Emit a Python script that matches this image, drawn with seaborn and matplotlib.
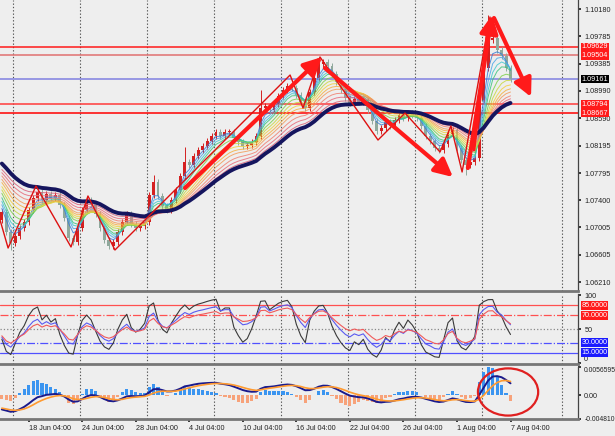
import numpy as np
import pandas as pd
import matplotlib
matplotlib.use('Agg')
import matplotlib.pyplot as plt
import seaborn as sns
from matplotlib.patches import Ellipse

# EURUSD, sampled every 2 H4 bars (bar 0 = Mon 17 Jun 2024 00:00)
first_bar = -5
bar_step = 2
closes = [
    1.07228, 1.06938, 1.06778, 1.06879, 1.06996, 1.07083, 1.07258, 1.07432, 1.07519, 1.07403,
    1.07490, 1.07432, 1.07476, 1.07330, 1.07141, 1.06850, 1.06792, 1.06996, 1.07258, 1.07403,
    1.07345, 1.07199, 1.06996, 1.06821, 1.06734, 1.06792, 1.06938, 1.07083, 1.07199, 1.07054,
    1.06996, 1.07025, 1.07083, 1.07476, 1.07665, 1.07461, 1.07316, 1.07258, 1.07403, 1.07548,
    1.07752, 1.07955, 1.07912, 1.08043, 1.08130, 1.08188, 1.08261, 1.08334, 1.08392, 1.08334,
    1.08392, 1.08392, 1.08304, 1.08246, 1.08188, 1.08203, 1.08246, 1.08334, 1.08741, 1.08770,
    1.08712, 1.08799, 1.08915, 1.09002, 1.09061, 1.09031, 1.08930, 1.08828, 1.08741, 1.08973,
    1.09177, 1.09380, 1.09409, 1.09351, 1.09235, 1.09119, 1.09002, 1.08886, 1.08813, 1.08871,
    1.08828, 1.08857, 1.08712, 1.08552, 1.08406, 1.08450, 1.08537, 1.08479, 1.08566, 1.08639,
    1.08595, 1.08668, 1.08639, 1.08595, 1.08479, 1.08334, 1.08261, 1.08159, 1.08130, 1.08217,
    1.08363, 1.08421, 1.08159, 1.07985, 1.07912, 1.07955, 1.08014, 1.08857, 1.09322, 1.09729,
    1.09758, 1.09584, 1.09497, 1.09322, 1.09161,
]
first_open = 1.07110
wick_highs = {34: 1.0776, 41: 1.0817, 58: 1.0900, 109: 1.1010}
wick_lows = {2: 1.0668, 104: 1.0777}

# rainbow EMAs (fast -> slow) and their values at the left edge
ma_periods = [3, 4, 5, 6, 8, 10, 12, 14, 16, 19, 22, 25]
ma_start = [1.07330, 1.07403, 1.07461, 1.07519, 1.07577, 1.07621,
            1.07665, 1.07723, 1.07766, 1.07810, 1.07854, 1.07898]
ma_colors = ['#3a7bd5', '#4aa8e8', '#40c8d0', '#3cc47c', '#7cd04a', '#c8d840',
             '#f0d040', '#f5b041', '#f39c5a', '#f08070', '#e86a7a', '#d9607a']
navy_period = 28
navy_start = 1.07985

# horizontal levels on the price chart
levels = [1.09629, 1.09504, 1.09161, 1.08794, 1.08667]
level_colors = ['#ff1a1a', '#e07070', '#8080e0', '#ff3a3a', '#ff0000']
level_box = ['#ff1a1a', '#ff1a1a', '#000000', '#ff1a1a', '#ff1a1a']
price_ticks = [1.10180, 1.09785, 1.09385, 1.08990, 1.08590, 1.08195,
               1.07795, 1.07400, 1.07005, 1.06605, 1.06210]

# drawn objects (bar, price)
zigzag_bars = [-5.8, -2.2, 10.3, 26.0, 33.6, 45.7, 124.2, 130.0, 137.6,
               163.6, 175.7, 191.4, 196.3, 201.3, 213.8]
zigzag_prices = [1.07112, 1.06705, 1.07607, 1.06720, 1.07461, 1.06676, 1.09220, 1.08741,
                 1.09482, 1.08275, 1.08668, 1.08101, 1.08479, 1.07810, 1.10064]
arrows = [  # (bar0, price0, bar1, price1)
    (77.1, 1.07577, 138.5, 1.09482),
    (139.8, 1.09322, 197.2, 1.07737),
    (203.9, 1.07868, 214.7, 1.10093),
    (215.6, 1.10049, 232.2, 1.08901),
]
arrow_line = (206.6, 1.08130, 212.9, 1.09904)

# oscillators
rsi_periods = [4, 8, 12]
rsi_start = [35, 38, 40]
rsi_colors = ['#3a3a3a', '#5a5af0', '#f05a5a']
rsi_levels = [85, 70, 50, 30, 15]
macd_fast, macd_slow, macd_signal = 6, 13, 5
macd_fast_start, macd_slow_start, signal_start = 1.0745, 1.0775, -0.0025
hist_scale = 3.0

# time axis
week_starts = [0, 30, 60, 90, 120, 150, 180, 210, 246]
tick_bars = [-17, 7, 31, 55, 79, 103, 127, 151, 175, 199, 223]
tick_labels = ['12 Jun 04:00', '18 Jun 04:00', '24 Jun 04:00', '28 Jun 04:00', '4 Jul 04:00',
               '10 Jul 04:00', '16 Jul 04:00', '22 Jul 04:00', '26 Jul 04:00',
               '1 Aug 04:00', '7 Aug 04:00']


def ema(values, period, start):
    s = pd.Series([start] + list(values))
    return s.ewm(span=period, adjust=False).mean().iloc[1:].to_numpy()


def rsi(values, period, start):
    d = np.diff(values, prepend=values[0])
    m = np.abs(d).mean()
    ag, al = m * start / 100, m * (1 - start / 100)
    out = []
    for v in d:
        ag = (ag * (period - 1) + max(v, 0)) / period
        al = (al * (period - 1) + max(-v, 0)) / period
        out.append(100 * ag / (ag + al))
    return np.array(out)


df = pd.DataFrame({'close': closes})
df['bar'] = first_bar + bar_step * np.arange(len(df))
df['open'] = df['close'].shift(1).fillna(first_open)
df['high'] = df[['open', 'close']].max(axis=1) + 0.0004
df['low'] = df[['open', 'close']].min(axis=1) - 0.0004
for k, v in wick_highs.items():
    df.loc[k, 'high'] = v
for k, v in wick_lows.items():
    df.loc[k, 'low'] = v
for i, (p, s) in enumerate(zip(ma_periods, ma_start)):
    df[f'ma{i}'] = ema(df['close'], p, s)
df['navy'] = ema(df['close'], navy_period, navy_start)
for i, (p, s) in enumerate(zip(rsi_periods, rsi_start)):
    df[f'rsi{i}'] = rsi(df['close'].to_numpy(), p, s)
df['macd'] = ema(df['close'], macd_fast, macd_fast_start) - ema(df['close'], macd_slow, macd_slow_start)
df['signal'] = ema(df['macd'], macd_signal, signal_start)
df['hist'] = (df['macd'] - df['signal']) * hist_scale

# ---- figure ----
sns.set_theme(style='white')
plt.rcParams['font.family'] = ['Liberation Sans', 'DejaVu Sans']
bg = '#eeeeee'
W, H = 615, 436
fig = plt.figure(figsize=(W / 100, H / 100), dpi=100, facecolor=bg)


def panel(top, bottom):
    ax = fig.add_axes([0, (H - bottom) / H, 578 / W, (bottom - top) / H])
    ax.set_facecolor(bg)
    for s in ['left', 'top']:
        ax.spines[s].set_visible(False)
    ax.spines['right'].set_color('#444444')
    ax.spines['right'].set_linewidth(0.9)
    ax.spines['bottom'].set_color('#777777')
    ax.spines['bottom'].set_linewidth(2)
    ax.yaxis.tick_right()
    ax.tick_params(axis='y', labelsize=5.2, length=2.5, pad=2, colors='#222222', direction='out')
    ax.tick_params(axis='x', bottom=False, labelbottom=False)
    for b in week_starts:
        ax.axvline(b, color='#555555', lw=0.8, ls=(0, (1.2, 1.8)), zorder=1)
    return ax


ax1 = panel(0, 291)
ax2 = panel(294, 364)
ax3 = panel(367, 419)

# price panel
ax1.set_ylim(1.103109 - 0.0001454 * 291, 1.103109)
ax1.set_yticks(price_ticks)
ax1.set_yticklabels([f'{t:.5f}' for t in price_ticks])
for lv, c in zip(levels, level_colors):
    ax1.axhline(lv, color=c, lw=1.1, zorder=2)

bull = df['close'] >= df['open']
cc = np.where(bull, '#d42020', '#8fa89c')
ax1.vlines(df['bar'], df['low'], df['high'], colors=cc, lw=0.7, zorder=3)
ax1.bar(df['bar'], (df['close'] - df['open']).abs().clip(lower=0.00008),
        bottom=df[['open', 'close']].min(axis=1), width=1.3, color=cc, lw=0, zorder=3)

for i, c in enumerate(ma_colors):
    sns.lineplot(data=df, x='bar', y=f'ma{i}', ax=ax1, color=c, lw=0.7, alpha=0.85, zorder=4)
sns.lineplot(data=df, x='bar', y='navy', ax=ax1, color='#15155e', lw=2.8, zorder=5)

ax1.plot(zigzag_bars, zigzag_prices, color='#dd1111', lw=1.0, zorder=6)
for b0, p0, b1, p1 in arrows:
    ax1.annotate('', xy=(b1, p1), xytext=(b0, p0), zorder=7,
                 arrowprops=dict(arrowstyle='-|>,head_length=0.9,head_width=0.45',
                                 color='#ff1a1a', lw=3, shrinkA=0, shrinkB=0))
ax1.plot(arrow_line[0::2], arrow_line[1::2], color='#ff1a1a', lw=2.2, zorder=7)

for lv, bc in zip(levels, level_box):
    ax1.text(1.006, lv, f'{lv:.5f}', transform=ax1.get_yaxis_transform(), fontsize=5.2,
             color='white', va='center', ha='left', zorder=10, clip_on=False,
             bbox=dict(boxstyle='square,pad=0.12', fc=bc, ec='none'))

# RSI panel
ax2.set_ylim(-1.5, 101.5)
ax2.set_yticks([100, 50, 0])
ax2.set_yticklabels(['100', '50', '0'])
ax2.get_yticklabels()[2].set_va('bottom')
rsi_styles = [('#ff5050', '-'), ('#ff5050', '-.'), ('#888888', ':'), ('#5050ff', '-.'), ('#5050ff', '-')]
for lv, (c, ls) in zip(rsi_levels, rsi_styles):
    ax2.axhline(lv, color=c, lw=0.9, ls=ls, zorder=2)
for i, c in enumerate(rsi_colors):
    sns.lineplot(data=df, x='bar', y=f'rsi{i}', ax=ax2, color=c, lw=0.8, zorder=4)
for lv, bc in zip(rsi_levels, ['#ff1a1a', '#ff1a1a', None, '#1a1aff', '#1a1aff']):
    if bc:
        ax2.text(1.006, lv, f'{lv:.4f}', transform=ax2.get_yaxis_transform(), fontsize=5.2,
                 color='white', va='center', ha='left', zorder=10, clip_on=False,
                 bbox=dict(boxstyle='square,pad=0.12', fc=bc, ec='none'))

# MACD panel
ax3.set_ylim(-0.00481, 0.0056595)
ax3.set_yticks([0.0056595, 0, -0.00481])
ax3.set_yticklabels(['0.0056595', '0.00', '-0.004810'])
ylabs = ax3.get_yticklabels()
ylabs[0].set_va('top')
ylabs[0].set_fontsize(4.9)
ylabs[2].set_va('center')
ylabs[2].set_fontsize(4.9)
hc = np.where(df['hist'] >= 0, '#3b95f0', '#f7a27a')
ax3.bar(df['bar'], df['hist'], width=1.4, color=hc, lw=0, zorder=3)
sns.lineplot(data=df, x='bar', y='macd', ax=ax3, color='#1a1a8c', lw=1.4, zorder=4)
sns.lineplot(data=df, x='bar', y='signal', ax=ax3, color='#ff9a30', lw=1.2, zorder=4)
ax3.add_patch(Ellipse((221.9, 0.00063), 27, 0.0095, fill=False, ec='#e02020', lw=1.6,
                      zorder=8, clip_on=False))
ax3.tick_params(axis='x', bottom=True, labelbottom=True, length=2.5, labelsize=5.2,
                colors='#222222', pad=1.5)
ax3.set_xticks(tick_bars)
ax3.set_xticklabels(tick_labels, ha='left')

for ax in (ax1, ax2, ax3):
    ax.set_xlabel('')
    ax.set_ylabel('')
    ax.set_xlim(-13 / 2.231, 565 / 2.231)

fig.savefig('out.png', dpi=100, facecolor=bg)
